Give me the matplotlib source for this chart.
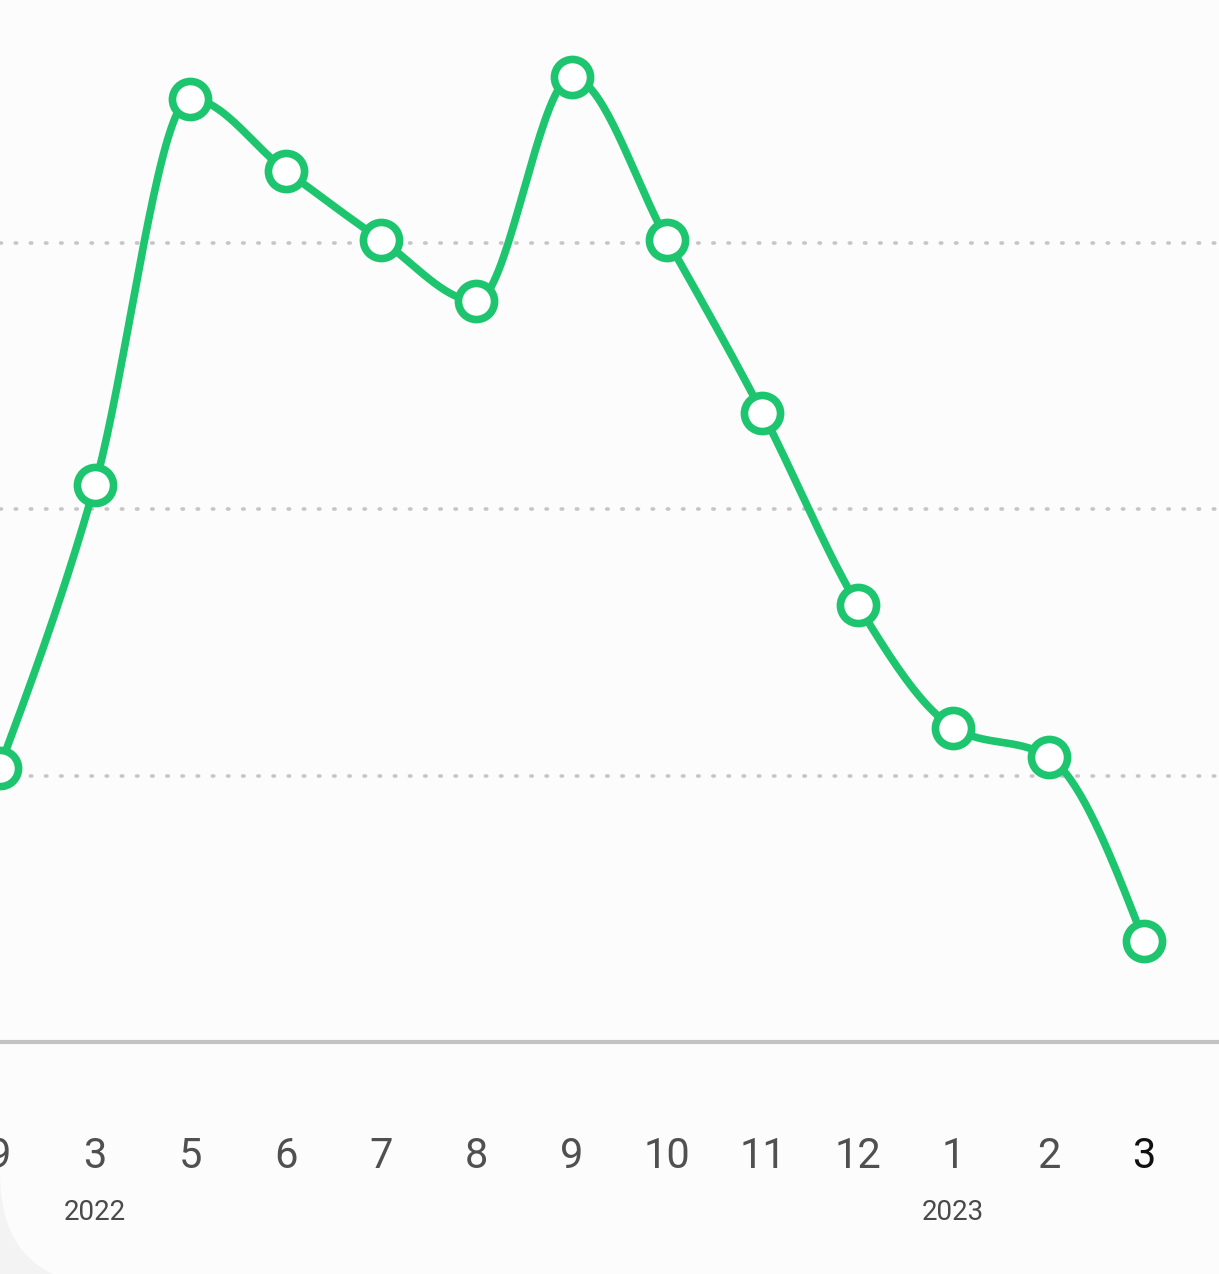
import numpy as np
import matplotlib
matplotlib.use("Agg")
import matplotlib.pyplot as plt
from matplotlib.patches import FancyBboxPatch

months = ["9", "3", "5", "6", "7", "8", "9", "10", "11", "12", "1", "2", "3"]
values = [103, 209, 354, 327, 301, 278, 362, 301, 236, 164, 118, 107, 38]
year_labels = {"2022": 1, "2023": 10}
gridlines = [100, 200, 300]

GREEN = "#1dc66e"
W, H = 1219, 1274
DPI = 100


def monotone_curve(x, y, n=40):
    x = np.asarray(x, float); y = np.asarray(y, float)
    h = np.diff(x); s = np.diff(y) / h
    m = np.zeros_like(y)
    for i in range(1, len(y) - 1):
        p = (s[i - 1] * h[i] + s[i] * h[i - 1]) / (h[i - 1] + h[i])
        m[i] = (np.sign(s[i - 1]) + np.sign(s[i])) * min(abs(s[i - 1]), abs(s[i]), 0.5 * abs(p))
    m[0] = (3 * s[0] - m[1]) / 2
    m[-1] = (3 * s[-1] - m[-2]) / 2
    xs, ys = [], []
    for i in range(len(x) - 1):
        t = np.linspace(0, 1, n)
        x0, x1 = x[i], x[i + 1]
        dx = (x1 - x0) / 3
        P0 = (x0, y[i]); P1 = (x0 + dx, y[i] + dx * m[i])
        P2 = (x1 - dx, y[i + 1] - dx * m[i + 1]); P3 = (x1, y[i + 1])
        b = lambda a, bb, c, d: (1 - t) ** 3 * a + 3 * (1 - t) ** 2 * t * bb + 3 * (1 - t) * t ** 2 * c + t ** 3 * d
        xs.append(b(P0[0], P1[0], P2[0], P3[0])); ys.append(b(P0[1], P1[1], P2[1], P3[1]))
    return np.concatenate(xs), np.concatenate(ys)


fig = plt.figure(figsize=(W / DPI, H / DPI), dpi=DPI)
fig.patch.set_facecolor("#f3f3f3")

# rounded card
r = 112
card = FancyBboxPatch((0, -11 / H), 2.0, 2.0, boxstyle="round,pad=0,rounding_size=%f" % (r / W),
                      transform=fig.transFigure, facecolor="#fcfcfc", edgecolor="none",
                      mutation_aspect=W / H, zorder=-10)
fig.patches.append(card)

px0, dpx = -0.4, 95.36
base_px = 1042
unit = 2.665  # px per value unit
ax_bottom = (H - base_px) / H
ax = fig.add_axes([0, ax_bottom, 1, 1 - ax_bottom])
ax.set_zorder(5)
ax.set_facecolor("none")
ax.set_xlim(-px0 / dpx, (W - px0) / dpx)
ax.set_ylim(0, base_px / unit)
for s in ax.spines.values():
    s.set_visible(False)
ax.set_xticks([]); ax.set_yticks([])

for g in gridlines:
    ax.axhline(g, color="#c6c6c6", lw=2.6, linestyle=(0, (0.4, 3.8)), dash_capstyle="round", zorder=1)
ax.axhline(0, color="#c2c2c2", lw=3, zorder=1, clip_on=False)

xi = np.arange(len(values))
cx, cy = monotone_curve(xi, values)
ax.plot(cx, cy, color=GREEN, lw=5.5, solid_capstyle="round", zorder=3, clip_on=False)
ax.plot(xi, values, linestyle="none", marker="o", markersize=26, markerfacecolor="white",
        markeredgecolor=GREEN, markeredgewidth=5.5, zorder=4, clip_on=False)

font = ["Roboto", "DejaVu Sans"]
for i, lab in enumerate(months):
    col = "#111111" if i == len(months) - 1 else "#505050"
    fig.text((px0 + dpx * i) / W, 1 - 1157 / H, lab, ha="center", va="center",
             fontsize=30, color=col, family=font, fontweight="normal")
for lab, i in year_labels.items():
    fig.text((px0 + dpx * i) / W, 1 - 1213 / H, lab, ha="center", va="center",
             fontsize=20, color="#4a4a4a", family=font)

fig.savefig("out.png", dpi=DPI, facecolor=fig.get_facecolor())
